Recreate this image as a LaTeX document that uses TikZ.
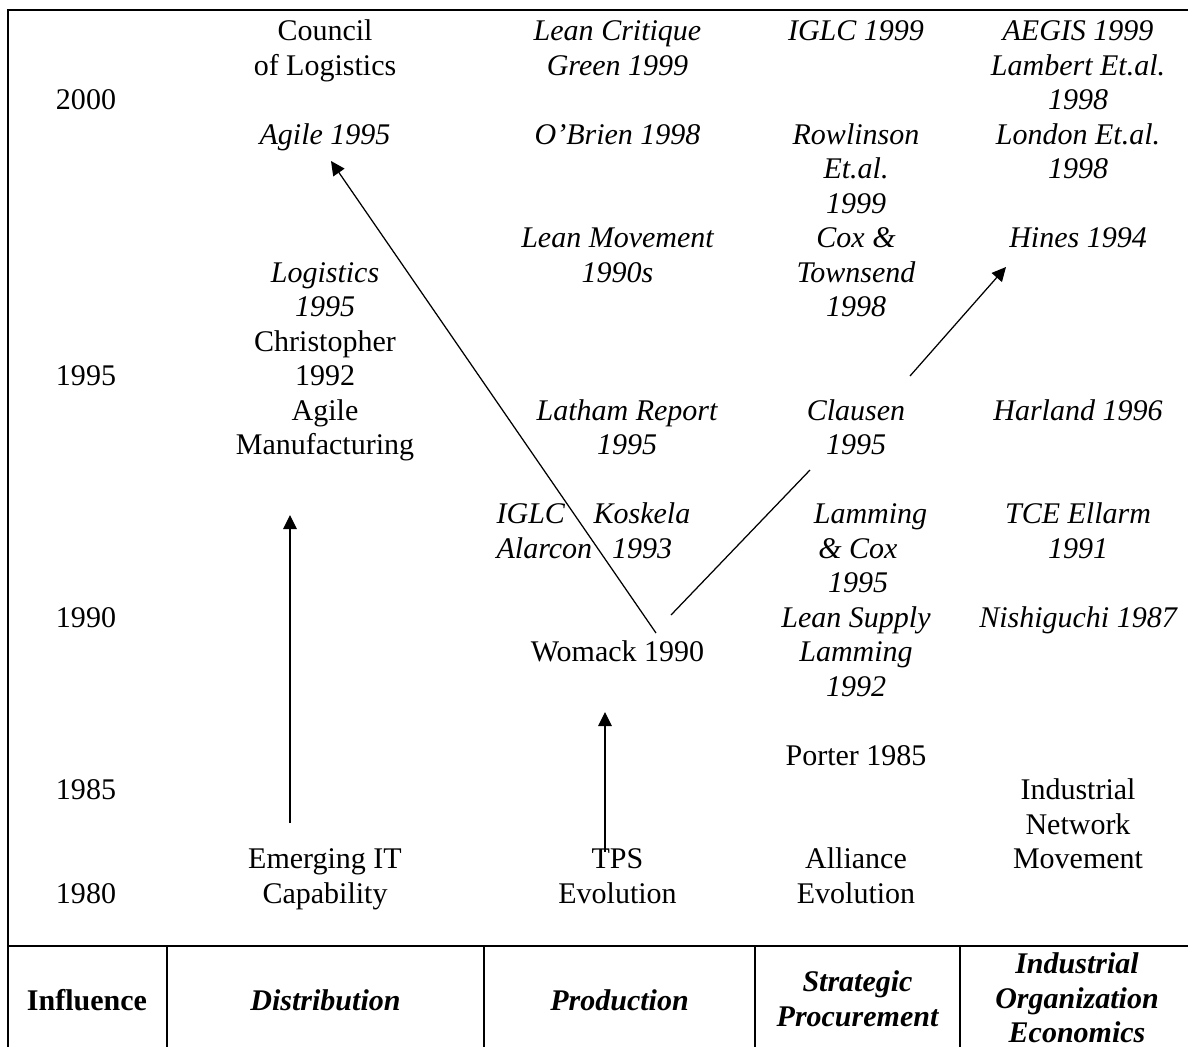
\documentclass[tikz,border=0pt]{standalone}
\usepackage{fontspec}
\setmainfont{Liberation Serif}
\usetikzlibrary{arrows.meta}

\begin{document}
\begin{tikzpicture}[->,>={Triangle[length=5.6pt,width=5.4pt]},line width=0.5pt,
                    x=0.4pt,y=-0.4pt]
  \tikzstyle{entry}=[anchor=north,yshift=9.66pt,inner sep=0pt,align=center,
                     font=\fontsize{12}{13.8}\selectfont,execute at begin node=\strut]
  \tikzstyle{cite}=[entry,font=\fontsize{12}{13.8}\selectfont\itshape]
  \tikzstyle{head}=[entry,font=\fontsize{12}{13.8}\selectfont\bfseries\itshape]
  \tikzstyle{frameline}=[-,line width=0.8pt]

  \useasboundingbox (0,0) rectangle (1188,1047);

  % years
  \node[entry] (y2000) at (86,109)   {2000};
  \node[entry] (y1995) at (86,385)   {1995};
  \node[entry] (y1990) at (86,626.5) {1990};
  \node[entry] (y1985) at (86,799)   {1985};
  \node[entry] (y1980) at (86,902.5) {1980};

  % distribution
  \node[entry] (council)  at (325,40)    {\strut Council\\of Logistics};
  \node[cite]  (agile)    at (325,143.5) {Agile 1995};
  \node[cite]  (logist)   at (325,281.5) {\strut Logistics\\1995};
  \node[entry] (christ)   at (325,350.5) {\strut Christopher\\1992\\Agile\\Manufacturing};
  \node[entry] (emerging) at (325,868)   {\strut Emerging IT\\Capability};

  % production
  \node[cite]  (critique) at (617.5,40)    {\strut Lean Critique\\Green 1999};
  \node[cite]  (obrien)   at (617.5,143.5) {O'Brien 1998};
  \node[cite]  (leanmov)  at (617.5,247)   {\strut Lean Movement\\1990s};
  \node[cite]  (latham)   at (627,419.5)   {\strut Latham Report\\1995};
  \node[cite,anchor=north west,align=left] (iglc) at (496,523) {\strut IGLC\\Alarcon};
  \node[cite]  (koskela)  at (642,523)     {\strut Koskela\\1993};
  \node[entry] (womack)   at (617.5,661)   {Womack 1990};
  \node[entry] (tps)      at (617.5,868)   {\strut TPS\\Evolution};

  % procurement
  \node[cite]  (iglc99)    at (856,40)    {IGLC 1999};
  \node[cite]  (rowlinson) at (856,143.5) {\strut Rowlinson\\Et.al.\\1999};
  \node[cite]  (cox)       at (856,247)   {\strut Cox \&\\Townsend\\1998};
  \node[cite]  (clausen)   at (856,419.5) {\strut Clausen\\1995};
  \node[cite]  (lamcox)    at (858,523)   {\strut\hspace*{10pt}Lamming\\\& Cox\\1995};
  \node[cite]  (supply)    at (856,626.5) {\strut Lean Supply\\Lamming\\1992};
  \node[entry] (porter)    at (856,764.5) {Porter 1985};
  \node[entry] (alliance)  at (856,868)   {\strut Alliance\\Evolution};

  % industrial organization
  \node[cite]  (aegis)   at (1078,40)    {\strut AEGIS 1999\\Lambert Et.al.\\1998};
  \node[cite]  (london)  at (1078,143.5) {\strut London Et.al.\\1998};
  \node[cite]  (hines)   at (1078,247)   {Hines 1994};
  \node[cite]  (harland) at (1078,419.5) {Harland 1996};
  \node[cite]  (tce)     at (1078,523)   {\strut TCE Ellarm\\1991};
  \node[cite]  (nishi)   at (1078,626.5) {Nishiguchi 1987};
  \node[entry] (network) at (1078,799)   {\strut Industrial\\Network\\Movement};

  % bottom row
  \node[entry,font=\fontsize{12}{13.8}\selectfont\bfseries] (influence) at (87,1010) {Influence};
  \node[head] (distrib) at (325.5,1010) {Distribution};
  \node[head] (product) at (619.5,1010) {Production};
  \node[head] (strat)   at (857.5,991)  {\strut Strategic\\Procurement};
  \node[head] (ioe)     at (1077,973)   {\strut Industrial\\Organization\\Economics};

  % frame
  \draw[frameline] (8,1047) -- (8,10) -- (1188,10);
  \draw[frameline] (8,946) -- (1188,946)
                   (167,946) -- (167,1047) (484,946) -- (484,1047)
                   (755,946) -- (755,1047) (960,946) -- (960,1047);

  \coordinate (itup)        at (290,823);
  \coordinate (amdown)      at (290,515);
  \coordinate (tpsup)       at (605,852);
  \coordinate (womdown)     at (605,712);
  \coordinate (womleft)     at (656,633);
  \coordinate (agiledown)   at (331,161);
  \coordinate (womright)    at (671,615);
  \coordinate (clausendown) at (810,470);
  \coordinate (clausenup)   at (910,376);
  \coordinate (hinesdown)   at (1006,267);

  \path (itup)      edge      (amdown)
        (tpsup)     edge      (womdown)
        (womleft)   edge      (agiledown)
        (womright)  edge[-]   (clausendown)
        (clausenup) edge      (hinesdown);
\end{tikzpicture}
\end{document}
